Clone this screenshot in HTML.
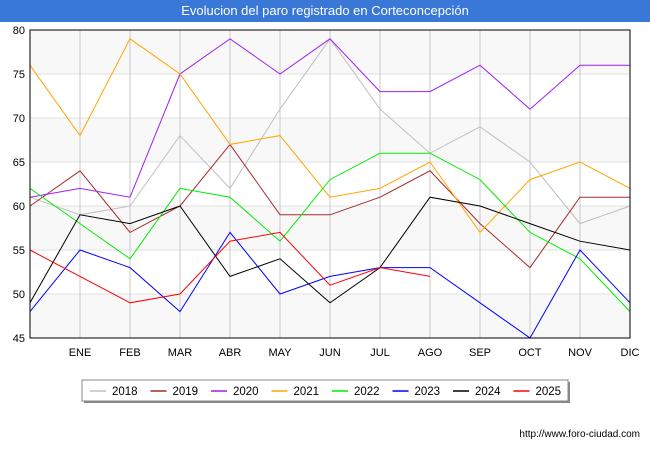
<!DOCTYPE html>
<html><head><meta charset="utf-8"><style>
body{margin:0;width:650px;height:450px;background:#fff;font-family:"Liberation Sans",sans-serif;overflow:hidden;position:relative}
#title{position:absolute;left:0;top:0;width:650px;height:22px;background:#3a78d8;color:#fff;font-size:13px;line-height:22px;text-align:center}
</style></head><body>
<div id="title">Evolucion del paro registrado en Corteconcepción</div>
<svg id="chart" width="650" height="450" style="position:absolute;left:0;top:0"></svg>
<script>
const months=["","ENE","FEB","MAR","ABR","MAY","JUN","JUL","AGO","SEP","OCT","NOV","DIC"];
const yTicks=[45,50,55,60,65,70,75,80];
const years=["2018","2019","2020","2021","2022","2023","2024","2025"];
const colors=["#c0c0c0","#a52a2a","#a020f0","#ffa500","#00ee00","#0000ff","#000000","#ff0000"];
const s2018=[61,59,60,68,62,71,79,71,66,69,65,58,60];
const s2019=[60,64,57,60,67,59,59,61,64,58,53,61,61];
const s2020=[61,62,61,75,79,75,79,73,73,76,71,76,76];
const s2021=[76,68,79,75,67,68,61,62,65,57,63,65,62];
const s2022=[62,58,54,62,61,56,63,66,66,63,57,54,48];
const s2023=[48,55,53,48,57,50,52,53,53,49,45,55,49];
const s2024=[49,59,58,60,52,54,49,53,61,60,58,56,55];
const s2025=[55,52,49,50,56,57,51,53,52];
const series=[s2018,s2019,s2020,s2021,s2022,s2023,s2024,s2025];
const L=30,R=630,T=30,B=338,ymin=45,ymax=80;
const x=i=>L+i*(R-L)/12;
const y=v=>B-(v-ymin)*(B-T)/(ymax-ymin);
const svg=document.getElementById('chart');
const NS="http://www.w3.org/2000/svg";
function mk(t,a,p){const e=document.createElementNS(NS,t);for(const k in a)e.setAttribute(k,a[k]);(p||svg).appendChild(e);return e;}
for(let k=0;k<yTicks.length-1;k++){
 const b=mk('rect',{x:L,y:y(yTicks[k+1]),width:R-L,height:y(yTicks[k])-y(yTicks[k+1]),fill:(k%2==0)?'#f8f8f8':'#ffffff'});
 
 
}
yTicks.forEach(v=>{
 const g=mk('line',{x1:L,x2:R,y1:y(v),y2:y(v),stroke:'#e0e0e0','stroke-width':1});
 
 
 const t=mk('text',{x:L-5,y:y(v)+4,'text-anchor':'end','font-size':11,fill:'#000'});
 t.textContent=v;
 
 
});
months.forEach((m,i)=>{
 if(i==0)return;
 const g=mk('line',{x1:x(i),x2:x(i),y1:T,y2:B,stroke:'#c8c8c8','stroke-width':1});
 
 
 const t=mk('text',{x:x(i),y:B+18,'text-anchor':'middle','font-size':11,fill:'#000'});
 t.textContent=m;
 
 
});
series.forEach((s,k)=>{
 const p=mk('polyline',{points:s.map((v,i)=>x(i)+','+y(v)).join(' '),fill:'none',stroke:colors[k],'stroke-width':1});
 
 
});
const fr=mk('rect',{x:L,y:T,width:R-L,height:B-T,fill:'none',stroke:'#000','stroke-width':1});


const lg=mk('g',{});


mk('rect',{x:84,y:382,width:486,height:21,fill:'#888'},lg);
mk('rect',{x:82,y:380,width:486,height:21,fill:'#fff',stroke:'#888'},lg);
years.forEach((yr,k)=>{
 const ex=90+k*60.5;
 const e=mk('g',{},lg);
 
 
 mk('line',{x1:ex,x2:ex+16,y1:391,y2:391,stroke:colors[k],'stroke-width':1.5},e);
 const t=mk('text',{x:ex+22,y:395,'font-size':11.5,fill:'#000'},e);
 t.textContent=yr;
});
const u=mk('text',{x:640,y:437,'text-anchor':'end','font-size':10,fill:'#000'});
u.textContent='http://www.foro-ciudad.com';


</script>
</body></html>
